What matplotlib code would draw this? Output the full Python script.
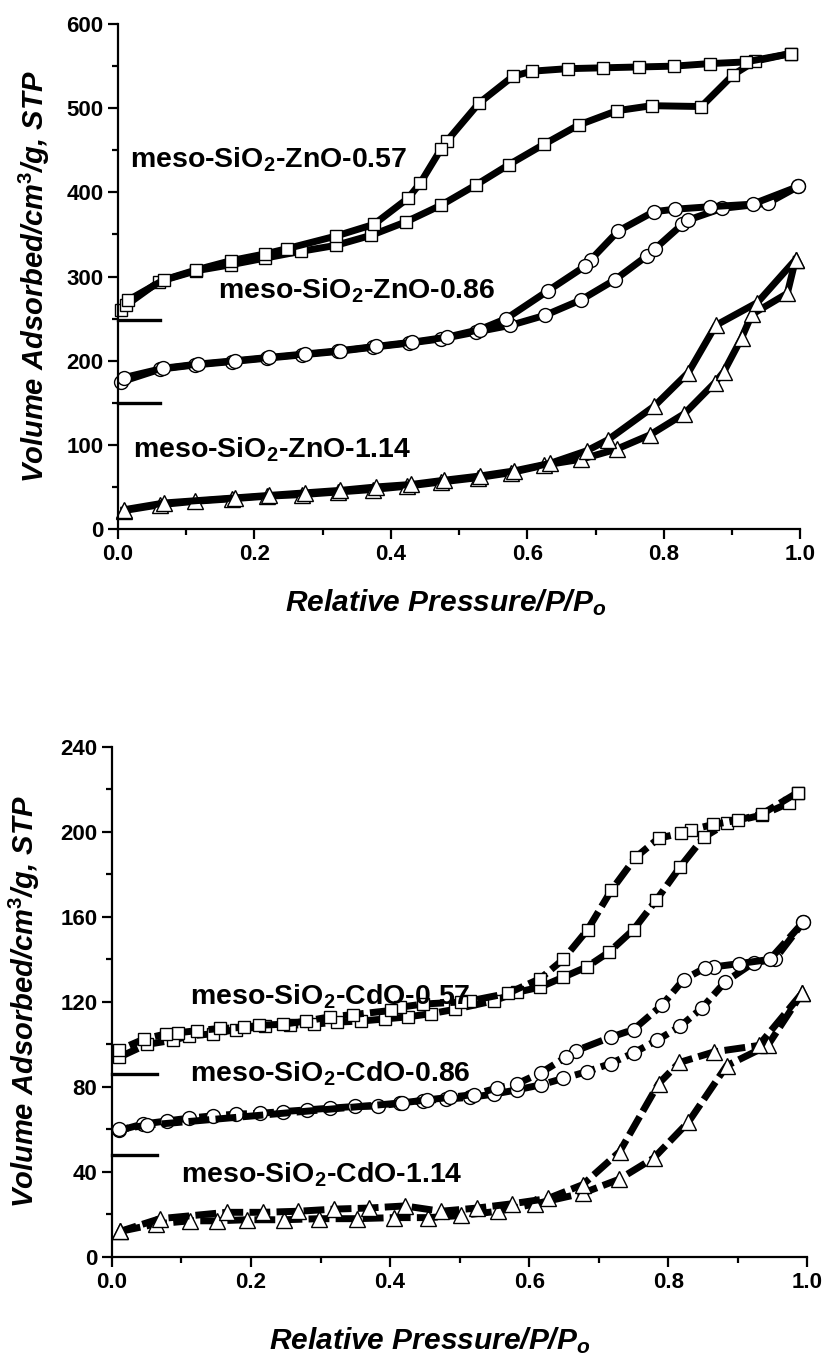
import matplotlib
matplotlib.use("Agg")
import matplotlib.pyplot as plt
from matplotlib.ticker import MultipleLocator

plt.rcParams['font.family'] = ['Liberation Sans', 'DejaVu Sans']
plt.rcParams['font.weight'] = 'bold'
plt.rcParams['mathtext.fontset'] = 'custom'
plt.rcParams['mathtext.rm'] = 'Liberation Sans:bold'
plt.rcParams['mathtext.it'] = 'Liberation Sans:bold:italic'
plt.rcParams['mathtext.bf'] = 'Liberation Sans:bold'

# ---- ZnO series (top) ----
zn057_ads_x = [0.005, 0.012, 0.06, 0.115, 0.165, 0.216, 0.268, 0.319, 0.371, 0.422, 0.474, 0.525,
               0.573, 0.624, 0.675, 0.731, 0.782, 0.855, 0.902, 0.934, 0.986]
zn057_ads_y = [260, 266, 294, 307, 314, 322, 330, 337, 349, 365, 385, 409,
               433, 457, 480, 497, 503, 502, 540, 556, 565]
zn057_des_x = [0.986, 0.920, 0.867, 0.815, 0.763, 0.711, 0.659, 0.607, 0.579, 0.529, 0.482, 0.473,
               0.443, 0.425, 0.375, 0.319, 0.247, 0.216, 0.166, 0.115, 0.067, 0.015]
zn057_des_y = [565, 555, 553, 550, 549, 548, 547, 544, 538, 506, 461, 451,
               411, 393, 362, 348, 333, 327, 319, 308, 296, 272]

zn086_ads_x = [0.005, 0.062, 0.113, 0.167, 0.218, 0.270, 0.322, 0.373, 0.427, 0.474, 0.524, 0.575,
               0.626, 0.678, 0.728, 0.776, 0.787, 0.827, 0.835, 0.885, 0.952, 0.997]
zn086_ads_y = [175, 190, 195, 199, 203, 207, 211, 216, 221, 226, 234, 242,
               254, 272, 296, 325, 333, 362, 367, 381, 387, 407]
zn086_des_x = [0.997, 0.930, 0.868, 0.816, 0.785, 0.733, 0.693, 0.684, 0.630, 0.569, 0.530, 0.482,
               0.431, 0.378, 0.326, 0.274, 0.222, 0.171, 0.117, 0.066, 0.009]
zn086_des_y = [407, 386, 383, 380, 377, 354, 320, 312, 283, 250, 237, 228,
               222, 217, 212, 208, 204, 200, 196, 191, 180]

zn114_ads_x = [0.009, 0.062, 0.113, 0.167, 0.218, 0.270, 0.322, 0.373, 0.424, 0.474, 0.527, 0.576,
               0.625, 0.679, 0.731, 0.780, 0.830, 0.875, 0.888, 0.914, 0.929, 0.981, 0.993]
zn114_ads_y = [22, 29, 33, 36, 39, 41, 44, 47, 51, 56, 61, 67,
               76, 83, 95, 112, 137, 174, 187, 227, 255, 280, 320]
zn114_des_x = [0.993, 0.937, 0.876, 0.836, 0.786, 0.718, 0.687, 0.633, 0.580, 0.530, 0.478,
               0.430, 0.378, 0.326, 0.274, 0.222, 0.171, 0.068, 0.009]
zn114_des_y = [320, 269, 242, 186, 146, 106, 93, 78, 69, 63, 58,
               53, 50, 46, 43, 40, 37, 31, 23]

# ---- CdO series (bottom) ----
cd057_ads_x = [0.0105, 0.05, 0.088, 0.111, 0.145, 0.178, 0.22, 0.256, 0.29, 0.324, 0.358, 0.393,
               0.426, 0.459, 0.493, 0.549, 0.582, 0.616, 0.648, 0.683, 0.715, 0.750, 0.783, 0.817,
               0.851, 0.884, 0.935, 0.973, 0.986]
cd057_ads_y = [94, 100, 102, 104, 105, 107, 108.5, 109, 109.5, 110.5, 111, 112,
               113, 114.5, 116.5, 120.5, 124.5, 127, 131.5, 136.5, 143.5, 154, 168, 183.5,
               197.5, 204, 208, 213.5, 218.5]
cd057_des_x = [0.986, 0.935, 0.900, 0.865, 0.832, 0.819, 0.786, 0.753, 0.718, 0.684, 0.649, 0.616,
               0.569, 0.515, 0.502, 0.448, 0.414, 0.402, 0.346, 0.314, 0.279, 0.246, 0.211,
               0.19, 0.155, 0.123, 0.095, 0.078, 0.046, 0.0105]
cd057_des_y = [218.5, 208.5, 205.5, 203.5, 201, 199.5, 197, 188, 172.5, 154, 140, 131,
               124, 120.5, 120, 119, 117.5, 116, 114, 113, 111, 109.5, 109,
               108, 107.5, 106.5, 105.5, 105, 102.5, 97.5]

cd086_ads_x = [0.0105, 0.044, 0.079, 0.111, 0.145, 0.179, 0.213, 0.246, 0.280, 0.314, 0.349, 0.382,
               0.414, 0.448, 0.481, 0.515, 0.549, 0.582, 0.617, 0.649, 0.683, 0.717, 0.750, 0.784,
               0.817, 0.848, 0.882, 0.923, 0.953, 0.994]
cd086_ads_y = [59.5, 62.5, 64, 65.3, 66.4, 67.2, 67.6, 68.4, 69.2, 70, 70.8, 71,
               72.3, 73.6, 74.3, 75.1, 76.6, 78.6, 81, 84, 87.2, 91, 96, 102,
               108.5, 117, 129.5, 138.5, 140, 157.5]
cd086_des_x = [0.994, 0.946, 0.901, 0.866, 0.853, 0.822, 0.791, 0.750, 0.718, 0.667, 0.653, 0.617,
               0.582, 0.553, 0.520, 0.486, 0.453, 0.417, 0.050, 0.0105]
cd086_des_y = [157.5, 140, 138, 136.5, 136, 130.5, 118.5, 107, 103.5, 97, 94, 86.7,
               81.4, 79.4, 76.4, 75.1, 73.9, 72.5, 62, 60]

cd114_ads_x = [0.0115, 0.063, 0.112, 0.151, 0.194, 0.247, 0.298, 0.352, 0.405, 0.455, 0.502, 0.555,
               0.609, 0.677, 0.729, 0.779, 0.829, 0.884, 0.943, 0.992]
cd114_ads_y = [12, 15.5, 17, 17, 17.5, 17.5, 18, 18, 18.5, 18.5, 19.5, 21.5,
               25, 30, 36.5, 46.5, 63.5, 90, 99.5, 124]
cd114_des_x = [0.992, 0.930, 0.866, 0.816, 0.786, 0.730, 0.677, 0.627, 0.575, 0.525, 0.473, 0.421,
               0.369, 0.319, 0.268, 0.217, 0.165, 0.069, 0.0115]
cd114_des_y = [124, 99.5, 96.5, 91.5, 81.5, 49.5, 34, 27.5, 25, 23, 21.5, 24,
               23, 22.5, 21.5, 21, 21, 18, 12]

zn_labels = ['meso-SiO$_\\mathrm{2}$-ZnO-0.57', 'meso-SiO$_\\mathrm{2}$-ZnO-0.86', 'meso-SiO$_\\mathrm{2}$-ZnO-1.14']
cd_labels = ['meso-SiO$_\\mathrm{2}$-CdO-0.57', 'meso-SiO$_\\mathrm{2}$-CdO-0.86', 'meso-SiO$_\\mathrm{2}$-CdO-1.14']

fig = plt.figure(figsize=(8.23, 13.59), dpi=100)
ax1 = fig.add_axes([0.1434, 0.6107, 0.829, 0.3716])
ax2 = fig.add_axes([0.136, 0.0751, 0.845, 0.3753])

mk = dict(markerfacecolor='white', markeredgecolor='black', markeredgewidth=1.0,
          color='black', clip_on=False)


def isotherm(ax, x, y, marker, ms, ls):
    ax.plot(x, y, marker=marker, markersize=ms, linewidth=5, linestyle=ls, **mk)


ls1 = '-'
isotherm(ax1, zn057_ads_x, zn057_ads_y, 's', 9, ls1)
isotherm(ax1, zn057_des_x, zn057_des_y, 's', 9, ls1)
isotherm(ax1, zn086_ads_x, zn086_ads_y, 'o', 10, ls1)
isotherm(ax1, zn086_des_x, zn086_des_y, 'o', 10, ls1)
isotherm(ax1, zn114_ads_x, zn114_ads_y, '^', 11, ls1)
isotherm(ax1, zn114_des_x, zn114_des_y, '^', 11, ls1)

ls2 = (0, (3.0, 0.9))
isotherm(ax2, cd057_ads_x, cd057_ads_y, 's', 9, ls2)
isotherm(ax2, cd057_des_x, cd057_des_y, 's', 9, ls2)
isotherm(ax2, cd086_ads_x, cd086_ads_y, 'o', 10, ls2)
isotherm(ax2, cd086_des_x, cd086_des_y, 'o', 10, ls2)
isotherm(ax2, cd114_ads_x, cd114_ads_y, '^', 11, ls2)
isotherm(ax2, cd114_des_x, cd114_des_y, '^', 11, ls2)

# offset markers near the y axis
for yv in (248, 150):
    ax1.plot([0, 0.062], [yv, yv], color='black', lw=2.4, clip_on=False)
for yv in (86, 48):
    ax2.plot([0, 0.065], [yv, yv], color='black', lw=2.4, clip_on=False)

tfs = 20.5
ax1.text(0.018, 429, zn_labels[0], fontsize=tfs, fontweight='bold', va='baseline')
ax1.text(0.146, 274, zn_labels[1], fontsize=tfs, fontweight='bold', va='baseline')
ax1.text(0.022, 85, zn_labels[2], fontsize=tfs, fontweight='bold', va='baseline')
ax2.text(0.112, 119, cd_labels[0], fontsize=tfs, fontweight='bold', va='baseline')
ax2.text(0.112, 82.4, cd_labels[1], fontsize=tfs, fontweight='bold', va='baseline')
ax2.text(0.100, 34.8, cd_labels[2], fontsize=tfs, fontweight='bold', va='baseline')

for ax, ymax, ymaj, ymin in ((ax1, 600, 100, 50), (ax2, 240, 40, 20)):
    ax.set_xlim(0, 1.0)
    ax.set_ylim(0, ymax)
    ax.spines['top'].set_visible(False)
    ax.spines['right'].set_visible(False)
    ax.spines['left'].set_linewidth(1.6)
    ax.spines['bottom'].set_linewidth(1.6)
    ax.xaxis.set_major_locator(MultipleLocator(0.2))
    ax.xaxis.set_minor_locator(MultipleLocator(0.1))
    ax.yaxis.set_major_locator(MultipleLocator(ymaj))
    ax.yaxis.set_minor_locator(MultipleLocator(ymin))
    ax.xaxis.set_major_formatter(plt.FormatStrFormatter('%.1f'))
    ax.tick_params(which='major', direction='out', length=7, width=1.6, labelsize=16)
    ax.tick_params(which='minor', direction='out', length=4, width=1.6)
    for lab in ax.get_xticklabels() + ax.get_yticklabels():
        lab.set_fontweight('bold')
    ax.set_xlabel('Relative Pressure/P/P$_\\mathit{o}$', fontsize=21.5, fontweight='bold', style='italic')
    ax.set_ylabel('Volume Adsorbed/cm$^\\mathit{3}$/g, STP', fontsize=21, fontweight='bold', style='italic')

ax1.xaxis.set_label_coords(0.48, -0.115)
ax1.yaxis.set_label_coords(-0.097, 0.5)
ax2.xaxis.set_label_coords(0.457, -0.133)
ax2.yaxis.set_label_coords(-0.10, 0.5)

fig.savefig('out.png', dpi=100)
